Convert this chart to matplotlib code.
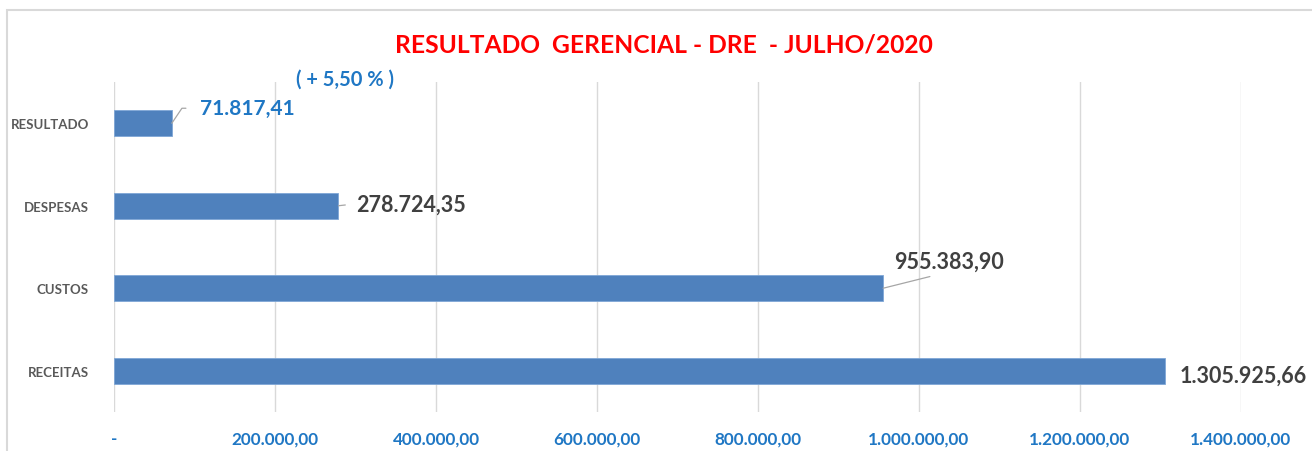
import matplotlib.pyplot as plt
from matplotlib.patches import Rectangle
from matplotlib.ticker import FuncFormatter, MultipleLocator

# data (bottom to top)
categories = ["RECEITAS", "CUSTOS", "DESPESAS", "RESULTADO"]
values = [1305925.66, 955383.90, 278724.35, 71817.41]
label_colors = ["#404040", "#404040", "#404040", "#1F77C4"]
title = "RESULTADO  GERENCIAL - DRE  - JULHO/2020"
subtitle = "( + 5,50 % )"

BLUE = "#1F77C4"
BAR = "#4F81BD"
GRID = "#D9D9D9"
FONT = "Lato"


def br(v):
    if v == 0:
        return "-"
    s = f"{v:,.2f}"
    return s.replace(",", "X").replace(".", ",").replace("X", ".")


fig = plt.figure(figsize=(13.12, 4.52), dpi=100)
plt.rcParams['font.family'] = [FONT, 'DejaVu Sans']

# chart frame
fig.patches.append(Rectangle((7 / 1312, -0.05), 1.1, (452 - 11) / 452 + 0.05,
                             transform=fig.transFigure, fill=False,
                             edgecolor=GRID, linewidth=1.5))

ax = fig.add_axes([114 / 1312, 39 / 452, 1127 / 1312, 330 / 452])
ypos = list(range(len(categories)))
ax.barh(ypos, values, height=0.31, color=BAR, edgecolor="#7FA7D6", linewidth=0.6, zorder=3)

ax.set_xlim(0, 1400000)
ax.set_ylim(-0.5, len(categories) - 0.5)
ax.xaxis.set_major_locator(MultipleLocator(200000))
ax.xaxis.set_major_formatter(FuncFormatter(lambda v, p: br(v)))
ax.grid(axis="x", color=GRID, linewidth=1, zorder=0)
for s in ax.spines.values():
    s.set_visible(False)

ax.set_yticks(ypos)
ax.set_yticklabels(categories, fontsize=9.5, fontweight="bold", color="#595959")
ax.tick_params(axis="y", length=0, pad=18)
ax.tick_params(axis="x", length=0, pad=13, labelsize=12.3, labelcolor=BLUE)
for t in ax.get_xticklabels():
    t.set_fontweight("bold")

# data labels with leader lines
lbl = dict(fontweight="bold", textcoords="offset pixels", va="center")
ax.annotate(br(values[3]), (values[3], 3), xytext=(28, 15), ha="left", color=label_colors[3],
            fontsize=15,
            arrowprops=dict(arrowstyle="-", color="#A6A6A6", lw=0.9, shrinkA=8, shrinkB=0,
                            relpos=(0, 0.5), connectionstyle="angle,angleA=0,angleB=56,rad=0"),
            **lbl)
ax.annotate(br(values[2]), (values[2], 2), xytext=(18, 2), ha="left", color=label_colors[2],
            fontsize=15.5,
            arrowprops=dict(arrowstyle="-", color="#A6A6A6", lw=0.9, shrinkA=6, shrinkB=0,
                            relpos=(0, 0.5)),
            **lbl)
ax.annotate(br(values[1]), (values[1], 1), xytext=(66, 27), ha="center", color=label_colors[1],
            fontsize=15.5,
            arrowprops=dict(arrowstyle="-", color="#A6A6A6", lw=0.9, shrinkA=6, shrinkB=0,
                            relpos=(0.5, 0)),
            **lbl)
ax.annotate(br(values[0]), (values[0], 0), xytext=(14, -4), ha="left", color=label_colors[0],
            fontsize=15.5, **lbl)

fig.text(664 / 1312, 1 - 45 / 452, title, ha="center", va="center", fontsize=17.7,
         fontweight="bold", color="#FF0000")
fig.text(345 / 1312, 1 - 80 / 452, subtitle, ha="center", va="center", fontsize=14.5,
         fontweight="bold", color=BLUE)

fig.savefig("out.png", dpi=100)
